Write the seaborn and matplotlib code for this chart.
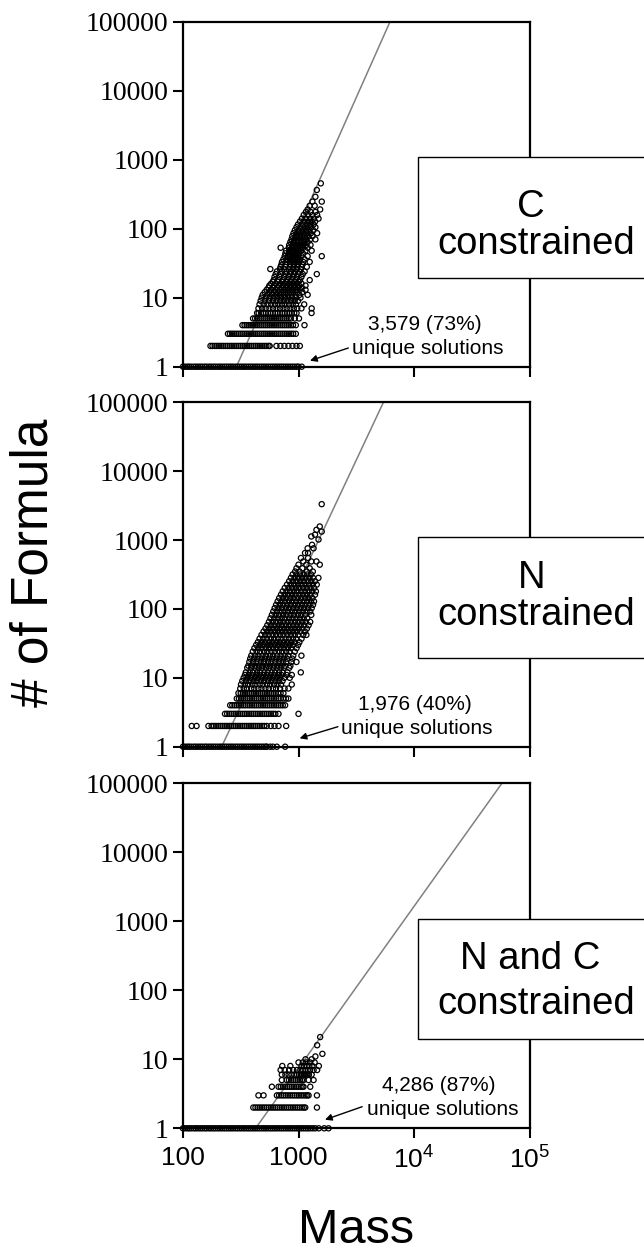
import pandas as pd
import numpy as np
import matplotlib
matplotlib.use('Agg')
import matplotlib.pyplot as plt
from matplotlib.patches import Rectangle
import seaborn as sns

sns.set_style('ticks')
plt.rcParams['font.family'] = ['Liberation Sans', 'DejaVu Sans']
plt.rcParams['mathtext.fontset'] = 'custom'
plt.rcParams['mathtext.rm'] = 'Liberation Sans'
for key in ['text.color', 'axes.labelcolor', 'xtick.color', 'ytick.color', 'axes.edgecolor']:
    plt.rcParams[key] = 'black'

# ---- data: (number of formulae, [masses]) ----
c_rows = [
    (1, [100, 104, 109, 113, 118, 124, 129, 135, 141, 147, 154, 160, 168, 175, 183, 191, 200, 209, 218,
         228, 238, 249, 260, 271, 284, 296, 310, 323, 338, 353, 369, 385, 402, 421, 439, 459, 480, 501,
         523, 547, 571, 597, 624, 651, 681, 711, 743, 776, 811, 848, 886, 925, 967, 1000, 1066]),
    (2, [173, 180, 188, 196, 205, 214, 223, 233, 243, 254, 265, 277, 289, 302, 315, 329, 343, 358, 374,
         390, 408, 426, 444, 464, 484, 505, 527, 550, 563, 644, 697, 755, 818, 886, 960, 1027]),
    (3, [245, 255, 266, 277, 289, 302, 315, 328, 342, 357, 372, 388, 405, 422, 440, 459, 479, 499, 520,
         543, 566, 590, 616, 642, 670, 698, 728, 760, 792, 826, 862, 899, 948]),
    (4, [327, 341, 356, 371, 387, 404, 421, 439, 458, 477, 498, 519, 541, 565, 589, 614, 640, 668, 696,
         726, 757, 790, 824, 859, 896, 948, 1127]),
    (5, [404, 421, 439, 458, 477, 498, 519, 541, 565, 589, 614, 640, 668, 696, 726, 757, 790, 824, 859,
         929, 1010]),
    (6, [438, 452, 474, 497, 521, 546, 572, 600, 629, 660, 692, 725, 760, 797, 836, 876, 918, 962, 1297]),
    (7, [450, 485, 520, 560, 600, 645, 690, 740, 790, 850, 910, 975, 1060, 1300]),
    (8, [460, 500, 540, 580, 625, 670, 720, 770, 830, 890, 950, 1120]),
    (9, [470, 510, 555, 600, 645, 695, 745, 800, 860, 925, 990]),
    (10, [480, 520, 565, 610, 660, 710, 765, 820, 880, 945, 1040]),
    (11, [490, 540, 590, 640, 690, 745, 805, 870, 940, 1020, 1200]),
    (12, [510, 560, 610, 660, 715, 775, 840, 905, 975, 1080]),
    (13, [530, 580, 630, 685, 745, 810, 875, 945, 1030, 1150]),
    (14, [550, 600, 655, 715, 775, 840, 910, 985, 1070]),
    (15, [560, 615, 675, 735, 800, 865, 935, 1010, 1150]),
    (16, [580, 640, 700, 760, 825, 895, 970, 1060]),
    (17, [600, 660, 720, 785, 850, 920, 1000]),
    (18, [610, 670, 735, 800, 870, 945, 1030, 1250]),
    (20, [620, 685, 750, 820, 890, 965, 1060]),
    (22, [635, 700, 770, 840, 910, 990, 1090, 1440]),
    (24, [650, 720, 790, 860, 935, 1015, 1130]),
    (26, [570, 690, 755, 825, 895, 965, 1050]),
    (28, [700, 770, 840, 905, 975, 1060, 1180]),
    (30, [710, 780, 850, 915, 985, 1080]),
    (33, [720, 790, 840, 885, 925, 965, 1010, 1100, 1250]),
    (36, [740, 800, 845, 875, 905, 935, 975, 1025, 1130]),
    (40, [760, 810, 850, 880, 900, 925, 955, 995, 1060, 1200, 1590]),
    (44, [770, 825, 865, 890, 915, 940, 970, 1010, 1090]),
    (48, [780, 835, 875, 905, 935, 965, 1000, 1050, 1150, 1300]),
    (53, [700, 825, 875, 915, 955, 995, 1040, 1100, 1200]),
    (58, [830, 885, 935, 985, 1035, 1090, 1160, 1270]),
    (64, [850, 905, 955, 1005, 1060, 1120, 1200]),
    (70, [870, 925, 980, 1040, 1100, 1170, 1260, 1400]),
    (78, [885, 945, 1005, 1070, 1140, 1220, 1320]),
    (86, [905, 970, 1040, 1110, 1190, 1280, 1450]),
    (95, [930, 1000, 1080, 1160, 1240, 1340]),
    (105, [960, 1040, 1120, 1200, 1290, 1400]),
    (115, [990, 1080, 1170, 1260, 1350]),
    (127, [1030, 1120, 1210, 1300, 1390]),
    (140, [1070, 1160, 1260, 1360, 1490]),
    (158, [1110, 1210, 1320, 1450]),
    (175, [1160, 1270, 1400]),
    (190, [1200, 1540]),
    (215, [1250, 1380]),
    (247, [1320, 1590]),
    (290, [1400]),
    (364, [1440]),
    (454, [1560]),
]

n_rows = [
    (1, [100, 104, 109, 113, 118, 124, 129, 135, 141, 147, 154, 160, 168, 175, 183, 191, 200, 209, 218,
         228, 238, 249, 260, 271, 284, 296, 310, 323, 338, 353, 369, 385, 402, 421, 439, 459, 480, 501,
         523, 531, 568, 600, 649, 766]),
    (2, [119, 131, 166, 177, 185, 193, 202, 211, 220, 230, 240, 251, 262, 274, 286, 299, 312, 326, 341,
         356, 372, 388, 406, 424, 443, 462, 483, 505, 531, 575, 620, 671, 782]),
    (3, [231, 241, 252, 263, 275, 287, 300, 313, 327, 342, 357, 373, 390, 407, 425, 444, 464, 485, 506,
         529, 553, 577, 603, 630, 671, 1000]),
    (4, [256, 267, 279, 292, 305, 318, 333, 347, 363, 379, 396, 414, 432, 452, 472, 493, 515, 538, 562,
         587, 613, 641, 670, 700, 731, 766]),
    (5, [292, 305, 318, 333, 347, 363, 379, 396, 414, 432, 452, 472, 493, 515, 538, 562, 587, 613, 641,
         670, 700, 740, 780, 818]),
    (6, [302, 316, 330, 345, 360, 376, 393, 411, 429, 448, 468, 489, 511, 534, 558, 583, 609, 636, 665,
         700, 741]),
    (7, [313, 336, 358, 390, 414, 449, 478, 517, 553, 600, 638, 692, 758, 817]),
    (8, [318, 343, 366, 398, 423, 460, 490, 532, 568, 614, 657, 706, 874]),
    (9, [326, 351, 375, 407, 434, 470, 503, 545, 583, 630, 673, 727]),
    (10, [335, 361, 386, 419, 447, 484, 517, 560, 598, 648, 692, 752, 840]),
    (11, [344, 371, 396, 430, 458, 497, 531, 575, 615, 666, 712, 791, 875]),
    (12, [350, 378, 403, 438, 467, 507, 541, 586, 627, 679, 725, 802, 1047]),
    (14, [360, 389, 416, 452, 482, 522, 558, 605, 647, 700, 749, 832]),
    (15, [368, 397, 424, 461, 492, 533, 570, 617, 660, 714, 764, 851]),
    (17, [375, 405, 433, 470, 502, 544, 581, 630, 674, 729, 780, 868, 960]),
    (19, [382, 412, 441, 479, 511, 554, 592, 642, 686, 743, 795, 882]),
    (21, [390, 421, 450, 488, 521, 565, 604, 654, 700, 758, 811, 901, 1060]),
    (24, [402, 434, 464, 503, 537, 582, 623, 674, 722, 781, 836, 928]),
    (27, [415, 448, 479, 520, 555, 602, 644, 697, 746, 807, 864, 962]),
    (30, [430, 464, 496, 538, 575, 623, 666, 721, 772, 835, 894, 991]),
    (33, [445, 480, 513, 556, 595, 644, 689, 746, 799, 864, 925, 1018]),
    (37, [460, 496, 531, 576, 615, 666, 713, 772, 827, 894, 957, 1062]),
    (42, [478, 515, 551, 597, 639, 692, 740, 801, 858, 927, 993, 1098, 1170]),
    (47, [498, 537, 575, 623, 666, 721, 772, 835, 894, 967, 1035, 1139]),
    (52, [518, 558, 598, 648, 693, 750, 803, 868, 930, 1005, 1077, 1182]),
    (58, [537, 579, 620, 672, 719, 778, 833, 901, 965, 1043, 1117, 1222]),
    (65, [555, 598, 641, 694, 743, 804, 861, 931, 998, 1078, 1155, 1262]),
    (73, [572, 617, 661, 715, 766, 829, 887, 959, 1028, 1110, 1190]),
    (82, [588, 634, 679, 735, 787, 852, 912, 986, 1057, 1142, 1290]),
    (92, [605, 652, 699, 756, 810, 876, 938, 1014, 1087, 1174, 1262]),
    (103, [622, 670, 718, 777, 832, 900, 964, 1042, 1117, 1207, 1301]),
    (115, [640, 690, 739, 800, 857, 926, 993, 1073, 1150, 1242, 1336]),
    (129, [660, 711, 762, 825, 883, 955, 1023, 1106, 1186, 1281, 1362]),
    (144, [680, 733, 786, 850, 910, 984, 1055, 1140, 1222, 1320]),
    (161, [705, 759, 814, 880, 943, 1019, 1093, 1180, 1266, 1390]),
    (180, [730, 787, 844, 912, 977, 1056, 1133, 1223, 1312, 1414]),
    (202, [760, 819, 878, 949, 1017, 1099, 1178, 1272, 1365]),
    (226, [795, 856, 918, 992, 1064, 1149, 1232, 1330, 1438]),
    (253, [830, 894, 959, 1036, 1111, 1200, 1287, 1389]),
    (283, [860, 926, 994, 1074, 1151, 1243, 1334, 1488]),
    (317, [890, 959, 1029, 1111, 1191, 1286]),
    (350, [935, 1020, 1180, 1330]),
    (390, [960, 1080, 1250]),
    (440, [1000, 1170, 1528]),
    (490, [1100, 1290, 1430]),
    (550, [1050, 1210]),
    (650, [1139, 1210]),
    (760, [1200, 1350]),
    (855, [1310]),
    (1020, [1490]),
    (1130, [1290]),
    (1200, [1390]),
    (1330, [1588]),
    (1410, [1430]),
    (1578, [1528]),
    (3330, [1588]),
]

nc_rows = [
    (1, [100, 104, 109, 113, 118, 124, 129, 135, 141, 147, 154, 160, 168, 175, 183, 191, 200, 209, 218,
         228, 238, 249, 260, 271, 284, 296, 310, 323, 338, 353, 369, 385, 402, 421, 439, 459, 480, 501,
         523, 547, 571, 597, 624, 651, 681, 711, 743, 776, 811, 848, 886, 925, 967, 1010, 1055, 1102,
         1152, 1204, 1264, 1330, 1400, 1500, 1670, 1820]),
    (2, [406, 424, 443, 463, 484, 505, 528, 552, 577, 603, 630, 658, 688, 719, 751, 785, 820, 857, 896,
         936, 978, 1022, 1068, 1110, 1144, 1444]),
    (3, [450, 498, 650, 679, 710, 742, 775, 810, 846, 884, 924, 966, 1009, 1054, 1102, 1151, 1190, 1222,
         1444]),
    (4, [588, 672, 702, 734, 767, 801, 837, 875, 914, 955, 998, 1043, 1080, 1105, 1264]),
    (5, [717, 791, 827, 864, 903, 943, 986, 1030, 1070, 1105, 1222, 1350]),
    (6, [717, 770, 820, 870, 920, 970, 1010, 1050, 1080, 1110, 1140, 1170, 1200, 1230, 1300]),
    (7, [700, 760, 830, 900, 970, 1040, 1100, 1150, 1200, 1260, 1350, 1450]),
    (8, [724, 850, 1060, 1120, 1180, 1240, 1320, 1500]),
    (9, [1000, 1090, 1170, 1260, 1380]),
    (10, [1150, 1300]),
    (11, [1400]),
    (12, [1610]),
    (16, [1450]),
    (21, [1540]),
]

# fitted lines (mass at 1 and at 100000 formulae)
c_fit_mass = [290, 6200]
n_fit_mass = [216, 5430]
nc_fit_mass = [425, 57700]
fit_count = [1, 100000]

panel_titles = [['C', 'constrained'], ['N', 'constrained'], ['N and C', 'constrained']]
unique_labels = ['3,579 (73%)', '1,976 (40%)', '4,286 (87%)']

y_ticks = [1, 10, 100, 1000, 10000, 100000]
y_ticklabels = ['1', '10', '100', '1000', '10000', '100000']
x_ticks = [100, 1000, 10000, 100000]
x_ticklabels = ['100', '1000', r'$\mathregular{10^4}$', r'$\mathregular{10^5}$']


def rows_to_frame(rows):
    records = [(m, c) for c, masses in rows for m in masses]
    return pd.DataFrame(records, columns=['mass', 'count'])


W, H = 644, 1251


def fx(px):
    return px / W


def fy(py):
    return 1 - py / H


fig = plt.figure(figsize=(6.44, 12.51), dpi=100)

# axes placement in pixels (left, right, top, bottom)
left, right = 183, 529.5
panel_tops = [21.7, 402.4, 783.3]
panel_bottoms = [366.7, 746.7, 1128.3]

datasets = [rows_to_frame(c_rows), rows_to_frame(n_rows), rows_to_frame(nc_rows)]
fits = [c_fit_mass, n_fit_mass, nc_fit_mass]

# text layout per panel (pixels)
box_tops = [157.3, 536.5, 918.5]
box_bottoms = [278.1, 657.6, 1039.3]
title_baselines = [(216.8, 253.6), (588.2, 624.9), (969.2, 1014.2)]
title_x = [(531, 536), (531.7, 536), (530.1, 536)]
note_pos = [((424.9, 329.9), (427.5, 353.9)),
            ((414.4, 710.0), (417.0, 734.0)),
            ((438.8, 1090.8), (442.3, 1114.7))]
arrow_pos = [((348.3, 348.0), (310.0, 360.7)),
             ((337.9, 726.7), (299.6, 738.3)),
             ((362.2, 1106.7), (325.0, 1119.7))]

for i in range(3):
    ax = fig.add_axes([fx(left), fy(panel_bottoms[i]),
                       (right - left) / W, (panel_bottoms[i] - panel_tops[i]) / H])

    sns.lineplot(x=fits[i], y=fit_count, ax=ax, color='#808080', linewidth=1.1, zorder=1)
    sns.scatterplot(data=datasets[i], x='mass', y='count', ax=ax, marker='o', s=14,
                    facecolor='none', edgecolor='black', linewidth=0.9,
                    clip_on=False, zorder=2, legend=False)

    ax.set_xscale('log')
    ax.set_yscale('log')
    ax.set_xlim(100, 100000)
    ax.set_ylim(1, 100000)
    ax.minorticks_off()
    ax.set_xlabel('')
    ax.set_ylabel('')

    ax.set_yticks(y_ticks)
    ax.set_yticklabels(y_ticklabels, fontfamily='Liberation Serif', fontsize=20)
    ax.set_xticks(x_ticks)
    if i == 2:
        ax.set_xticklabels(x_ticklabels, fontsize=19)
    else:
        ax.set_xticklabels([''] * len(x_ticks))

    ax.tick_params(axis='y', direction='out', length=7, width=1.5, pad=3.5, color='black')
    ax.tick_params(axis='x', direction='out', length=7, width=1.5, pad=6, color='black')
    for side in ['left', 'right', 'top', 'bottom']:
        ax.spines[side].set_linewidth(1.6)
        ax.spines[side].set_color('black')

    # label box on the right side
    fig.add_artist(Rectangle((fx(418), fy(box_bottoms[i])), (660 - 418) / W,
                             (box_bottoms[i] - box_tops[i]) / H,
                             transform=fig.transFigure, facecolor='white',
                             edgecolor='black', linewidth=1.0, zorder=5))
    fig.text(fx(title_x[i][0]), fy(title_baselines[i][0]), panel_titles[i][0],
             ha='center', va='baseline', fontsize=27.5, zorder=6)
    fig.text(fx(title_x[i][1]), fy(title_baselines[i][1]), panel_titles[i][1],
             ha='center', va='baseline', fontsize=27.5, zorder=6)

    # unique solutions note
    (n1x, n1y), (n2x, n2y) = note_pos[i]
    fig.text(fx(n1x), fy(n1y), unique_labels[i], ha='center', va='baseline', fontsize=15)
    fig.text(fx(n2x), fy(n2y), 'unique solutions', ha='center', va='baseline', fontsize=15)
    (tx, ty), (hx, hy) = arrow_pos[i]
    ax.annotate('', xy=(fx(hx), fy(hy)), xytext=(fx(tx), fy(ty)),
                xycoords='figure fraction', textcoords='figure fraction',
                arrowprops=dict(arrowstyle='-|>', color='black', lw=1.0,
                                mutation_scale=10, shrinkA=0, shrinkB=0))

fig.text(fx(34), fy(563), '# of Formula', rotation=90, ha='center', va='center', fontsize=37)
fig.text(fx(356), fy(1243), 'Mass', ha='center', va='baseline', fontsize=35)

fig.savefig('out.png', dpi=100)
